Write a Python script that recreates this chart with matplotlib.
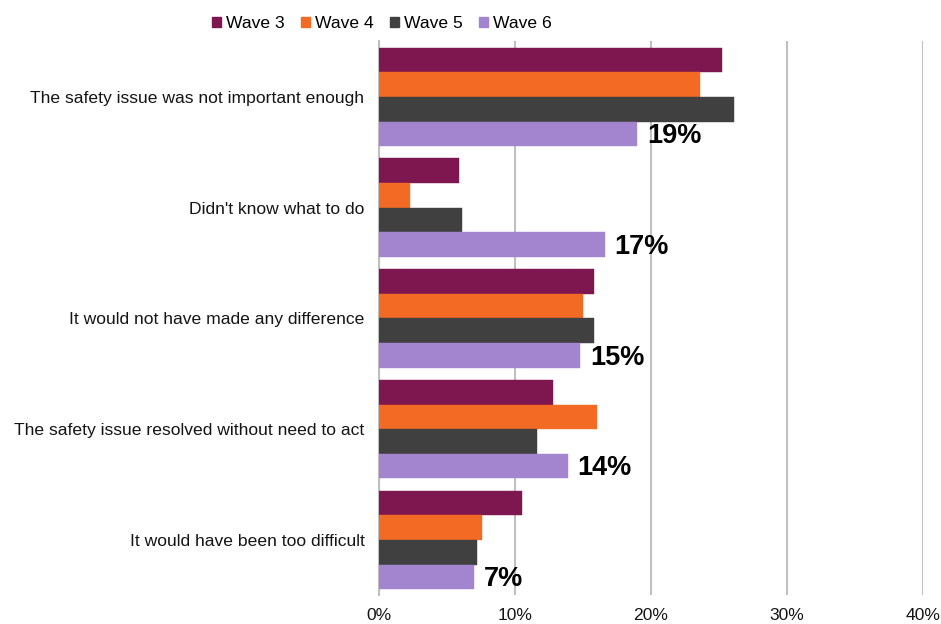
import matplotlib
matplotlib.use("Agg")
import matplotlib.pyplot as plt
import numpy as np
from matplotlib.patches import Patch

plt.rcParams['font.family'] = ['Liberation Sans', 'DejaVu Sans']

categories = [
    "The safety issue was not important enough",
    "Didn't know what to do",
    "It would not have made any difference",
    "The safety issue resolved without need to act",
    "It would have been too difficult",
]
series_names = ["Wave 3", "Wave 4", "Wave 5", "Wave 6"]
wave3 = [25.2, 5.9, 15.8, 12.8, 10.5]
wave4 = [23.6, 2.3, 15.0, 16.0, 7.6]
wave5 = [26.1, 6.1, 15.8, 11.6, 7.2]
wave6 = [19.0, 16.6, 14.8, 13.9, 7.0]
wave6_labels = ["19%", "17%", "15%", "14%", "7%"]
x_ticks = [0, 10, 20, 30, 40]
x_tick_labels = ["0%", "10%", "20%", "30%", "40%"]

colors = ["#7E1650", "#F26A24", "#404040", "#A385CF"]
series = [wave3, wave4, wave5, wave6]

fig = plt.figure(figsize=(9.41, 6.24), dpi=100)
ax = fig.add_axes([0.4028, 0.046, 0.9809 - 0.4028, 0.8875])

n = len(categories)
bar_h = 0.2225
pos = np.arange(n)
for i, (vals, col) in enumerate(zip(series, colors)):
    y = pos + (i - 1.5) * bar_h
    ax.barh(y, vals, height=bar_h, color=col, edgecolor=col, linewidth=0.3, zorder=3)
    if i == 3:
        for yy, v, lab in zip(y, vals, wave6_labels):
            ax.text(v + 0.7, yy + 0.02, lab, va='center', ha='left',
                    fontsize=19.5, fontweight='bold', color='black', zorder=4)

ax.set_ylim(n - 0.5, -0.5)
ax.set_xlim(0, 40)
ax.set_yticks(pos)
ax.set_yticklabels(categories, fontsize=12.6, color='#141414')
ax.set_xticks(x_ticks)
ax.set_xticklabels(x_tick_labels, fontsize=12.6, color='#141414')
ax.tick_params(axis='x', length=0, pad=9.5)
ax.tick_params(axis='y', length=0, pad=10.5)

ax.grid(axis='x', color='#BFBFBF', linewidth=1.5, zorder=0)
for s in ['top', 'right', 'bottom']:
    ax.spines[s].set_visible(False)
ax.spines['left'].set_color('#BFBFBF')
ax.spines['left'].set_linewidth(1.5)

handles = [Patch(facecolor=c, edgecolor=c) for c in colors]
fig.legend(handles, series_names, loc='center', bbox_to_anchor=(0.406, 0.962),
           ncol=4, frameon=False, fontsize=12.6, handlelength=0.5, handleheight=0.5,
           handletextpad=0.3, columnspacing=0.92)

fig.savefig("out.png", dpi=100)
